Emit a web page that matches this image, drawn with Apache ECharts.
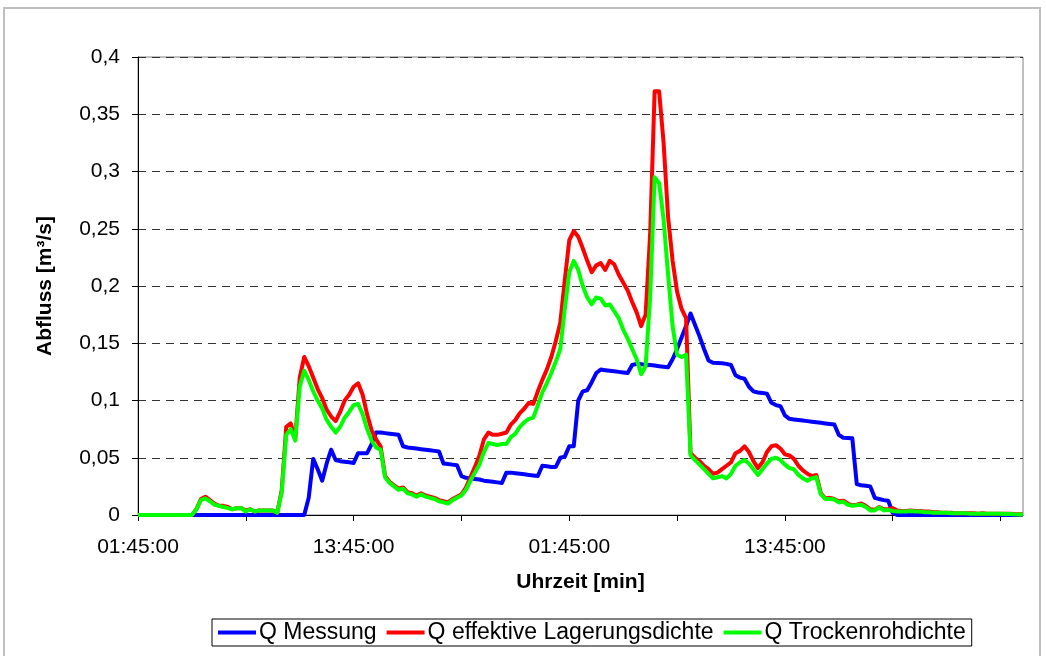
<!DOCTYPE html>
<html>
<head>
<meta charset="utf-8">
<title>Abfluss</title>
<script src="https://cdn.jsdelivr.net/npm/echarts@6/dist/echarts.min.js"></script>
<style>
    html, body { margin: 0; padding: 0; background: #fff; }
    #chart { width: 1046px; height: 656px; }
</style>
</head>
<body>
<div id="chart"></div>
<script>
'use strict';

// 15-Minuten-Werte ab 01:45:00
var STEP_MIN = 15;
var START_MIN = 1 * 60 + 45;
var POINTS = 198;

var yTicks = [0, 0.05, 0.1, 0.15, 0.2, 0.25, 0.3, 0.35, 0.4];

var qMessung = [
    0, 0, 0, 0, 0, 0, 0, 0, 0, 0,
    0, 0, 0, 0, 0, 0, 0, 0, 0, 0,
    0, 0, 0, 0, 0, 0, 0, 0, 0, 0,
    0, 0, 0, 0, 0, 0, 0, 0, 0.015, 0.049,
    0.04, 0.03, 0.045, 0.057, 0.048, 0.047, 0.0465, 0.046, 0.0455, 0.054,
    0.054, 0.054, 0.062, 0.072, 0.072, 0.0715, 0.071, 0.0705, 0.07, 0.06,
    0.059, 0.0585, 0.058, 0.0575, 0.057, 0.0565, 0.056, 0.0555, 0.045, 0.0445,
    0.044, 0.0435, 0.034, 0.0325, 0.032, 0.0315, 0.031, 0.03, 0.0295, 0.029,
    0.0285, 0.028, 0.037, 0.037, 0.0365, 0.036, 0.0355, 0.035, 0.0345, 0.034,
    0.043, 0.0425, 0.042, 0.042, 0.05, 0.051, 0.06, 0.06, 0.1, 0.108,
    0.109, 0.116, 0.124, 0.127, 0.1265, 0.126, 0.1255, 0.125, 0.1245, 0.124,
    0.131, 0.132, 0.1317, 0.1313, 0.131, 0.1305, 0.13, 0.1295, 0.129, 0.136,
    0.145, 0.155, 0.165, 0.176, 0.166, 0.156, 0.145, 0.135, 0.133, 0.1328,
    0.1325, 0.132, 0.131, 0.122, 0.12, 0.119, 0.112, 0.108, 0.107, 0.1065,
    0.106, 0.098, 0.096, 0.095, 0.087, 0.084, 0.0835, 0.083, 0.0825, 0.082,
    0.0815, 0.081, 0.0805, 0.08, 0.0795, 0.079, 0.07, 0.0675, 0.0673, 0.067,
    0.027, 0.026, 0.0255, 0.025, 0.015, 0.014, 0.013, 0.0125, 0.002, 0,
    0, 0, 0, 0, 0, 0, 0, 0, 0, 0,
    0, 0, 0, 0, 0, 0, 0, 0, 0, 0,
    0, 0, 0, 0, 0, 0, 0, 0
];

var qLagerung = [
    0, 0, 0, 0, 0, 0, 0, 0, 0, 0,
    0, 0, 0, 0.005, 0.014, 0.016, 0.013, 0.01, 0.008, 0.008,
    0.007, 0.005, 0.006, 0.006, 0.004, 0.005, 0.003, 0.004, 0.004, 0.004,
    0.004, 0.002, 0.022, 0.077, 0.08, 0.066, 0.12, 0.138, 0.13, 0.12,
    0.11, 0.102, 0.092, 0.086, 0.082, 0.09, 0.1, 0.105, 0.112, 0.115,
    0.105, 0.088, 0.074, 0.066, 0.06, 0.034, 0.029, 0.026, 0.023, 0.024,
    0.02, 0.019, 0.017, 0.019, 0.017, 0.016, 0.015, 0.013, 0.012, 0.011,
    0.014, 0.016, 0.018, 0.024, 0.033, 0.042, 0.052, 0.066, 0.072, 0.07,
    0.07, 0.071, 0.072, 0.079, 0.083, 0.089, 0.093, 0.098, 0.097, 0.108,
    0.118, 0.127, 0.138, 0.152, 0.168, 0.205, 0.24, 0.248, 0.243, 0.233,
    0.222, 0.212, 0.218, 0.22, 0.214, 0.222, 0.219, 0.21, 0.203, 0.196,
    0.186, 0.177, 0.165, 0.175, 0.245, 0.37, 0.37, 0.325, 0.26, 0.222,
    0.195, 0.18, 0.172, 0.054, 0.05, 0.047, 0.043, 0.04, 0.036, 0.037,
    0.04, 0.043, 0.046, 0.054, 0.056, 0.06, 0.055, 0.047, 0.041, 0.046,
    0.055, 0.06, 0.061, 0.058, 0.053, 0.052, 0.049, 0.043, 0.039, 0.036,
    0.034, 0.035, 0.019, 0.0145, 0.015, 0.014, 0.012, 0.0125, 0.01, 0.0085,
    0.009, 0.01, 0.008, 0.005, 0.0045, 0.007, 0.005, 0.005, 0.006, 0.004,
    0.0035, 0.0035, 0.004, 0.0035, 0.0035, 0.003, 0.003, 0.0025, 0.0025, 0.002,
    0.002, 0.002, 0.0015, 0.0015, 0.0015, 0.0015, 0.0015, 0.001, 0.0015, 0.001,
    0.001, 0.0012, 0.001, 0.001, 0.001, 0.0008, 0.0007, 0.0006
];

var qTrocken = [
    0, 0, 0, 0, 0, 0, 0, 0, 0, 0,
    0, 0, 0, 0.005, 0.013, 0.0145, 0.012, 0.009, 0.008, 0.007,
    0.006, 0.005, 0.006, 0.006, 0.003, 0.005, 0.003, 0.004, 0.004, 0.004,
    0.004, 0.002, 0.02, 0.07, 0.075, 0.065, 0.112, 0.126, 0.118, 0.108,
    0.1, 0.093, 0.083, 0.077, 0.072, 0.077, 0.085, 0.09, 0.096, 0.097,
    0.088, 0.075, 0.065, 0.059, 0.057, 0.033, 0.028, 0.025, 0.022, 0.023,
    0.019, 0.018, 0.016, 0.018, 0.016, 0.015, 0.014, 0.012, 0.011, 0.01,
    0.013, 0.015, 0.017, 0.022, 0.03, 0.037, 0.044, 0.055, 0.063, 0.062,
    0.061, 0.062, 0.062, 0.068, 0.071, 0.077, 0.081, 0.084, 0.085, 0.096,
    0.107, 0.115, 0.124, 0.134, 0.145, 0.18, 0.212, 0.222, 0.214, 0.2,
    0.19, 0.184, 0.19, 0.189, 0.183, 0.184, 0.178, 0.172, 0.162, 0.154,
    0.145, 0.136, 0.123, 0.13, 0.19, 0.295, 0.29, 0.258, 0.21, 0.165,
    0.14, 0.138, 0.14, 0.052, 0.048, 0.044, 0.04, 0.036, 0.032, 0.033,
    0.034, 0.032, 0.036, 0.043, 0.046, 0.048, 0.045, 0.04, 0.035, 0.04,
    0.045, 0.049, 0.05, 0.048, 0.044, 0.041, 0.04, 0.035, 0.032, 0.03,
    0.032, 0.033, 0.018, 0.014, 0.014, 0.0135, 0.011, 0.0115, 0.009, 0.008,
    0.0085, 0.009, 0.007, 0.004, 0.004, 0.0065, 0.004, 0.0045, 0.0035, 0.003,
    0.003, 0.003, 0.0035, 0.003, 0.003, 0.0025, 0.0025, 0.002, 0.002, 0.002,
    0.002, 0.0015, 0.0015, 0.0015, 0.0015, 0.0012, 0.0012, 0.001, 0.0012, 0.001,
    0.001, 0.001, 0.001, 0.0008, 0.0008, 0.0006, 0.0005, 0.0005
];

var seriesNames = ['Q Messung', 'Q effektive Lagerungsdichte', 'Q Trockenrohdichte'];
var seriesColors = ['#0000ff', '#ff0000', '#00ff00'];

var FONT = '"Liberation Sans", Arial, sans-serif';

function pad(n) {
    return (n < 10 ? '0' : '') + n;
}

// Uhrzeit-Kategorien
var uhrzeit = [];
for (var i = 0; i < POINTS; i++) {
    var m = (START_MIN + i * STEP_MIN) % 1440;
    uhrzeit.push(pad(Math.floor(m / 60)) + ':' + pad(m % 60) + ':00');
}

function lineSeries(name, data, color) {
    return {
        name: name,
        type: 'line',
        data: data,
        symbol: 'none',
        clip: false,
        color: color,
        lineStyle: { width: 4, color: color, join: 'round' }
    };
}

var chart = echarts.init(document.getElementById('chart'), null, { renderer: 'canvas' });

chart.setOption({
    animation: false,
    backgroundColor: '#fff',
    textStyle: { fontFamily: FONT, color: '#000' },
    graphic: [{
        type: 'rect',
        shape: { x: 4, y: 8, width: 1036, height: 660 },
        style: { fill: 'none', stroke: '#c0c0c0', lineWidth: 2 },
        silent: true,
        z: -1
    }],
    grid: {
        left: 138,
        top: 57,
        right: 23,
        bottom: 141,
        show: true,
        borderColor: '#808080',
        borderWidth: 1,
        containLabel: false
    },
    legend: {
        data: seriesNames,
        left: 212,
        top: 619,
        padding: [2, 6],
        borderColor: '#000',
        borderWidth: 1,
        itemGap: 10,
        itemWidth: 38,
        itemHeight: 4,
        icon: 'rect',
        textStyle: { fontFamily: FONT, fontSize: 23, color: '#000', lineHeight: 23, padding: [0, 0, 0, -2] }
    },
    xAxis: {
        type: 'category',
        data: uhrzeit,
        boundaryGap: false,
        name: 'Uhrzeit [min]',
        nameLocation: 'middle',
        nameGap: 57,
        nameTextStyle: { fontFamily: FONT, fontSize: 21, fontWeight: 'bold', color: '#000' },
        axisLine: { lineStyle: { color: '#000', width: 1 } },
        axisTick: { interval: 23, length: 6, lineStyle: { color: '#000' } },
        axisLabel: {
            // Beschriftung alle 12 Stunden, die letzte passt nicht mehr
            interval: function (index) {
                return index % 48 === 0 && index < 190;
            },
            margin: 22,
            fontFamily: FONT,
            fontSize: 21,
            color: '#000'
        },
        splitLine: { show: false }
    },
    yAxis: {
        type: 'value',
        min: yTicks[0],
        max: yTicks[yTicks.length - 1],
        interval: 0.05,
        name: 'Abfluss [m³/s]',
        nameLocation: 'middle',
        nameGap: 82,
        nameTextStyle: { fontFamily: FONT, fontSize: 21, fontWeight: 'bold', color: '#000' },
        axisLine: { show: true, lineStyle: { color: '#000', width: 1 } },
        axisTick: { show: true, length: 6, lineStyle: { color: '#000' } },
        axisLabel: {
            margin: 18,
            fontFamily: FONT,
            fontSize: 21,
            color: '#000',
            formatter: function (v) {
                return String(Number(v.toFixed(2))).replace('.', ',');
            }
        },
        splitLine: { show: true, lineStyle: { color: '#333', type: [8, 6], width: 1 } }
    },
    series: [
        lineSeries(seriesNames[0], qMessung, seriesColors[0]),
        lineSeries(seriesNames[1], qLagerung, seriesColors[1]),
        lineSeries(seriesNames[2], qTrocken, seriesColors[2])
    ]
});
</script>
</body>
</html>
